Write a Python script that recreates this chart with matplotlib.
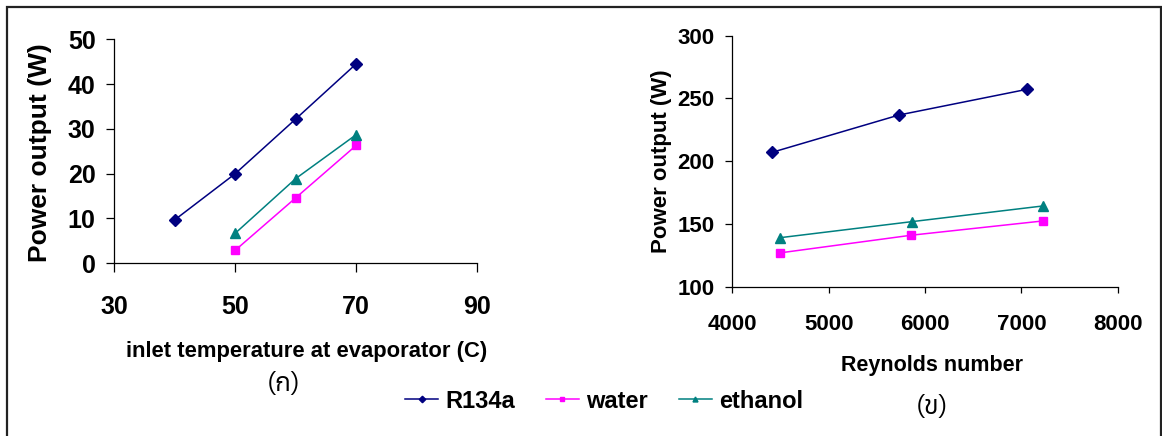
import matplotlib
matplotlib.use('Agg')
import matplotlib.pyplot as plt
from matplotlib import font_manager
from matplotlib.lines import Line2D

# ---------------- data ----------------
series_names = ['R134a', 'water', 'ethanol']

temp_R134a = [40, 50, 60, 70]
power_temp_R134a = [9.7, 20.0, 32.2, 44.5]
temp_water = [50, 60, 70]
power_temp_water = [2.9, 14.6, 26.3]
temp_ethanol = [50, 60, 70]
power_temp_ethanol = [6.7, 18.9, 28.7]

re_R134a = [4410, 5730, 7060]
power_re_R134a = [207.0, 236.8, 257.3]
re_water = [4500, 5855, 7225]
power_re_water = [127.0, 141.0, 152.4]
re_ethanol = [4490, 5860, 7220]
power_re_ethanol = [139.0, 151.8, 164.3]

left_xticks = [30, 50, 70, 90]
left_yticks = [0, 10, 20, 30, 40, 50]
right_xticks = [4000, 5000, 6000, 7000, 8000]
right_yticks = [100, 150, 200, 250, 300]

left_xlabel = 'inlet temperature at evaporator (C)'
right_xlabel = 'Reynolds number'
ylabel_text = 'Power output (W)'
caption_left = '(ก)'
caption_right = '(ข)'

# ---------------- fonts ----------------
def has_family(name):
    try:
        font_manager.findfont(font_manager.FontProperties(family=name),
                              fallback_to_default=False)
        return True
    except Exception:
        return False

def find_font_with(ch):
    try:
        from fontTools.ttLib import TTFont
    except Exception:
        return None
    cp = ord(ch)
    seen = set()
    cands = []
    for fe in font_manager.fontManager.ttflist:
        if fe.fname in seen:
            continue
        seen.add(fe.fname)
        try:
            f = TTFont(fe.fname, fontNumber=0, lazy=True)
            cmap = f.getBestCmap()
            if cmap and cp in cmap:
                cands.append(fe)
        except Exception:
            continue
    if not cands:
        return None
    cands.sort(key=lambda fe: (fe.weight not in (400, 'normal', 'regular'), fe.name))
    return cands[0].name

BASE = 'Liberation Sans' if has_family('Liberation Sans') else 'DejaVu Sans'
NARROW = 'Liberation Sans Narrow' if has_family('Liberation Sans Narrow') else None
THAI = find_font_with('ก')
thai_family = ([THAI] if THAI else []) + [BASE, 'DejaVu Sans']

plt.rcParams['font.family'] = [BASE, 'DejaVu Sans']

W, H = 1162, 436
fig = plt.figure(figsize=(W / 100, H / 100), dpi=100)

def fx(px):
    return px / W

def fy(py):
    return 1 - py / H

colors = {'R134a': '#000080', 'water': '#FF00FF', 'ethanol': '#008080'}
markers = {'R134a': 'D', 'water': 's', 'ethanol': '^'}
msizes = {'R134a': 6.0, 'water': 5.5, 'ethanol': 6.5}

# ---------------- left axes ----------------
axL = fig.add_axes([fx(114.3), fy(263.3), fx(477) - fx(114.3), fy(39.3) - fy(263.3)])
left_data = {
    'R134a': (temp_R134a, power_temp_R134a),
    'water': (temp_water, power_temp_water),
    'ethanol': (temp_ethanol, power_temp_ethanol),
}
for name in series_names:
    xs, ys = left_data[name]
    axL.plot(xs, ys, color=colors[name], marker=markers[name], markersize=msizes[name],
             markeredgecolor=colors[name], markerfacecolor=colors[name], linewidth=1.1,
             label=name)
axL.set_xlim(30, 90)
axL.set_ylim(0, 50)
axL.set_xticks(left_xticks)
axL.set_yticks(left_yticks)
for s in ['top', 'right']:
    axL.spines[s].set_visible(False)
for s in ['left', 'bottom']:
    axL.spines[s].set_linewidth(0.9)
axL.tick_params(axis='x', direction='out', length=6.5, width=0.9, pad=16.5, labelsize=18)
axL.tick_params(axis='y', direction='out', length=5.5, width=0.9, pad=8.0, labelsize=18)
for lab in axL.get_xticklabels() + axL.get_yticklabels():
    lab.set_fontweight('bold')

# ---------------- right axes ----------------
axR = fig.add_axes([fx(732.3), fy(286.7), fx(1117.7) - fx(732.3), fy(35.7) - fy(286.7)])
right_data = {
    'R134a': (re_R134a, power_re_R134a),
    'water': (re_water, power_re_water),
    'ethanol': (re_ethanol, power_re_ethanol),
}
for name in series_names:
    xs, ys = right_data[name]
    axR.plot(xs, ys, color=colors[name], marker=markers[name], markersize=msizes[name],
             markeredgecolor=colors[name], markerfacecolor=colors[name], linewidth=1.1,
             label=name)
axR.set_xlim(4000, 8000)
axR.set_ylim(100, 300)
axR.set_xticks(right_xticks)
axR.set_yticks(right_yticks)
for s in ['top', 'right']:
    axR.spines[s].set_visible(False)
for s in ['left', 'bottom']:
    axR.spines[s].set_linewidth(0.9)
axR.tick_params(axis='x', direction='out', length=4.5, width=0.9, pad=15.5, labelsize=16)
axR.tick_params(axis='y', direction='out', length=4.8, width=0.9, pad=8.0, labelsize=16)
for lab in axR.get_xticklabels() + axR.get_yticklabels():
    lab.set_fontweight('bold')

# ---------------- labels ----------------
if NARROW:
    fig.text(fx(306.7), fy(357.3), left_xlabel, ha='center', va='baseline',
             family=[NARROW, BASE], fontweight='bold', fontsize=18.5)
else:
    fig.text(fx(306.7), fy(357.3), left_xlabel, ha='center', va='baseline',
             fontweight='bold', fontsize=15.8)
fig.text(fx(932), fy(370.7), right_xlabel, ha='center', va='baseline',
         fontweight='bold', fontsize=15.5)
fig.text(fx(40), fy(153), ylabel_text, ha='center', va='center', rotation=90,
         fontweight='bold', fontsize=19)
fig.text(fx(661.7), fy(160.8), ylabel_text, ha='center', va='center', rotation=90,
         fontweight='bold', fontsize=16)
fig.text(fx(284), fy(383), caption_left, ha='center', va='center',
         family=thai_family, fontsize=19)
fig.text(fx(932), fy(406.8), caption_right, ha='center', va='center',
         family=thai_family, fontsize=19)

# ---------------- legend ----------------
handles, labels = axL.get_legend_handles_labels()
fig.legend(handles, labels, loc='center', bbox_to_anchor=(fx(604), fy(401)), ncol=3,
           frameon=False, prop={'weight': 'bold', 'size': 17}, handlelength=1.4,
           handletextpad=0.3, columnspacing=1.3, markerscale=0.55,
           borderaxespad=0, borderpad=0)

# ---------------- outer frame ----------------
fig.add_artist(Line2D([fx(7.3), fx(7.3), fx(1160.7), fx(1160.7)],
                      [fy(446), fy(7.3), fy(7.3), fy(446)],
                      transform=fig.transFigure, color='#222222', linewidth=1.6,
                      solid_joinstyle='miter'))

fig.savefig('out.png', dpi=100)
